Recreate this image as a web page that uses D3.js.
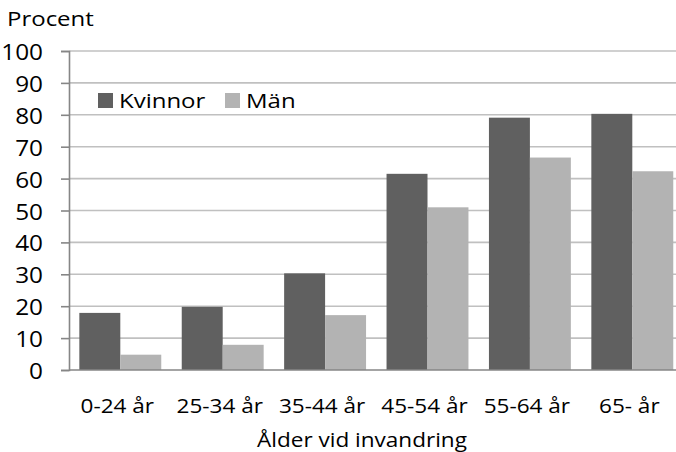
<!DOCTYPE html>
<html>
<head>
<meta charset="utf-8">
<script src="https://cdn.jsdelivr.net/npm/d3@7"></script>
<style>
  html, body { margin: 0; padding: 0; background: #fff; }
  svg { display: block; }
  text { font-family: "Open Sans", Lato, sans-serif; fill: #000; }
</style>
</head>
<body>
<svg id="chart" width="676" height="452"></svg>
<script>
const categories = ["0-24 år", "25-34 år", "35-44 år", "45-54 år", "55-64 år", "65- år"];
const seriesNames = ["Kvinnor", "Män"];
const kvinnor = [17.9, 19.8, 30.3, 61.5, 79.1, 80.3];
const man = [4.8, 7.9, 17.2, 51.0, 66.6, 62.3];
const yTicks = [0, 10, 20, 30, 40, 50, 60, 70, 80, 90, 100];
const yTitle = "Procent";
const xTitle = "Ålder vid invandring";

const colors = ["#606060", "#b3b3b3"];
const seriesValues = [kvinnor, man];
const data = categories.map((c, i) => ({ cat: c, vals: seriesValues.map(s => s[i]) }));

const svg = d3.select("#chart");

const x = d3.scaleBand().domain(categories).range([69.1, 683.5]).paddingInner(0.2).paddingOuter(0.1);
const xSub = d3.scaleBand().domain(seriesNames).range([0, x.bandwidth()]);
const y = d3.scaleLinear().domain([0, 100]).range([370, 51]);

function stretchedText(g, tx, ty, str, anchor, fs, sx) {
  return g.append("text")
    .attr("transform", `translate(${tx},${ty}) scale(${sx},1)`)
    .attr("text-anchor", anchor)
    .attr("font-size", fs)
    .text(str);
}

// gridlines
svg.append("g").selectAll("line").data(yTicks.filter(d => d > 0)).join("line")
  .attr("x1", 69).attr("x2", 676)
  .attr("y1", d => y(d)).attr("y2", d => y(d))
  .attr("stroke", "#c0c0c0").attr("stroke-width", 1.6);

// bars
const groups = svg.append("g").selectAll("g").data(data).join("g")
  .attr("transform", d => `translate(${x(d.cat)},0)`);
groups.selectAll("rect").data(d => d.vals.map((v, j) => ({ v, s: seriesNames[j], j }))).join("rect")
  .attr("x", d => xSub(d.s))
  .attr("width", xSub.bandwidth())
  .attr("y", d => y(d.v))
  .attr("height", d => y(0) - y(d.v))
  .attr("fill", d => colors[d.j]);

// y axis
const yAxis = d3.axisLeft(y).tickValues(yTicks).tickSize(8).tickFormat("");
const ya = svg.append("g").attr("transform", "translate(69,0)").call(yAxis);
ya.select(".domain").attr("stroke", "#868686").attr("stroke-width", 1.6);
ya.selectAll(".tick line").attr("stroke", "#868686").attr("stroke-width", 1.6);

// y tick labels
const yl = svg.append("g");
yTicks.forEach(t => stretchedText(yl, 43, y(t) + 9, String(t), "end", 21, 1.16));

// x axis line
const xAxis = d3.axisBottom(x).tickSize(0).tickFormat("");
const xa = svg.append("g").attr("transform", "translate(0,370)").call(xAxis);
xa.select(".domain").attr("stroke", "#868686").attr("stroke-width", 1.6).attr("d", "M69,0H676");

// x tick labels
const xl = svg.append("g");
categories.forEach(c => stretchedText(xl, x(c) + x.bandwidth() / 2 - 3, 413, c, "middle", 20.5, 1.1));

// titles
stretchedText(svg, 7, 26, yTitle, "start", 20.5, 1.17);
stretchedText(svg, 362, 447, xTitle, "middle", 20.5, 1.1);

// legend
const legendX = [98, 225];
const lg = svg.append("g");
seriesNames.forEach((s, i) => {
  lg.append("rect").attr("x", legendX[i]).attr("y", 93).attr("width", 15).attr("height", 15).attr("fill", colors[i]);
  stretchedText(lg, legendX[i] + 21, 108, s, "start", 20.5, 1.17);
});
</script>
</body>
</html>
